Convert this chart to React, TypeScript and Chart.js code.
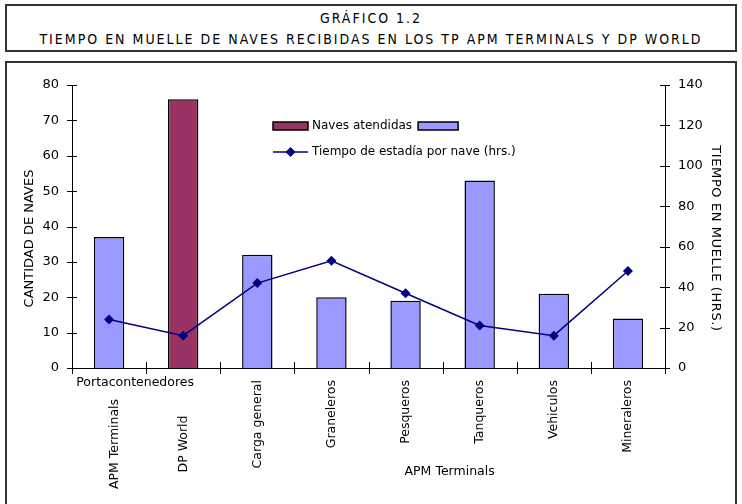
import React, { useEffect, useRef } from "react";
import { Chart, registerables } from "chart.js";

Chart.register(...registerables);

const categories = ["APM Terminals", "DP World", "Carga general", "Graneleros", "Pesqueros", "Tanqueros", "Vehiculos", "Mineraleros"];
const navesAtendidas = [37, 76, 32, 20, 19, 53, 21, 14];
const tiempoEstadia = [24, 16, 42, 53, 37, 21, 16, 48];
const barColors = ["#9999FF", "#993366", "#9999FF", "#9999FF", "#9999FF", "#9999FF", "#9999FF", "#9999FF"];
const groupLabels = ["Portacontenedores", "APM Terminals"];
const leftTitle = "CANTIDAD DE NAVES";
const rightTitle = "TIEMPO EN MUELLE (HRS.)";
const legendBar = "Naves atendidas";
const legendLine = "Tiempo de estadía por nave (hrs.)";
const titleLine1 = "GRÁFICO 1.2";
const titleLine2 = "TIEMPO EN MUELLE DE NAVES RECIBIDAS EN LOS TP APM TERMINALS Y DP WORLD";

const FONT = "'DejaVu Sans', Verdana, sans-serif";
const LINE_COLOR = "#000080";

const customPlugin = {
  id: "custom",
  afterDraw(chart: any) {
    const ctx = chart.ctx as CanvasRenderingContext2D;
    const { left, right, top, bottom } = chart.chartArea;
    const x = chart.scales.x;
    const y = chart.scales.y;
    const y1 = chart.scales.y1;
    ctx.save();
    ctx.strokeStyle = "#000";
    ctx.lineWidth = 1;
    // crossing tick marks
    ctx.beginPath();
    y.ticks.forEach((_t: any, i: number) => {
      const py = Math.round(y.getPixelForTick(i)) + 0.5;
      ctx.moveTo(left - 5, py);
      ctx.lineTo(left + 5, py);
    });
    y1.ticks.forEach((_t: any, i: number) => {
      const py = Math.round(y1.getPixelForTick(i)) + 0.5;
      ctx.moveTo(right - 5, py);
      ctx.lineTo(right + 5, py);
    });
    const n = categories.length;
    for (let i = 0; i <= n; i++) {
      const px = Math.round(left + ((right - left) * i) / n) + 0.5;
      ctx.moveTo(px, bottom - 6);
      ctx.lineTo(px, bottom + 6);
    }
    ctx.stroke();

    // category labels
    ctx.fillStyle = "#000";
    ctx.font = `12.5px ${FONT}`;
    ctx.textBaseline = "middle";
    categories.forEach((c, i) => {
      const px = x.getPixelForValue(i);
      ctx.save();
      if (i < 2) {
        ctx.translate(px + (i === 0 ? 6 : 1), bottom + 76);
        ctx.rotate(-Math.PI / 2);
        ctx.textAlign = "center";
      } else {
        ctx.translate(px, bottom + 12);
        ctx.rotate(-Math.PI / 2);
        ctx.textAlign = "right";
      }
      ctx.fillText(c, 0, 0);
      ctx.restore();
    });
    // group labels
    ctx.textAlign = "center";
    ctx.fillText(groupLabels[0], (x.getPixelForValue(0) + x.getPixelForValue(1)) / 2 - 11, bottom + 15);
    ctx.fillText(groupLabels[1], (x.getPixelForValue(2) + x.getPixelForValue(7)) / 2 + 7, bottom + 104);

    // axis titles
    ctx.font = `13px ${FONT}`;
    const midY = (top + bottom) / 2 + 12;
    ctx.save();
    ctx.translate(30, midY);
    ctx.rotate(-Math.PI / 2);
    ctx.fillText(leftTitle, 0, 0);
    ctx.restore();
    ctx.save();
    ctx.translate(715, midY);
    ctx.rotate(Math.PI / 2);
    (ctx as any).letterSpacing = "0.6px";
    ctx.fillText(rightTitle, 0, 0);
    ctx.restore();

    // legend
    ctx.font = `12px ${FONT}`;
    const lx = 273;
    const ly1 = 126;
    const ly2 = 152;
    ctx.lineWidth = 1.5;
    ctx.strokeStyle = "#000";
    ctx.fillStyle = barColors[1];
    ctx.fillRect(lx, ly1 - 4, 35, 8);
    ctx.strokeRect(lx, ly1 - 4, 35, 8);
    ctx.fillStyle = "#000";
    ctx.textAlign = "left";
    ctx.fillText(legendBar, 312, ly1);
    const w = ctx.measureText(legendBar).width;
    ctx.fillStyle = barColors[0];
    ctx.fillRect(312 + w + 6, ly1 - 4, 40, 8);
    ctx.strokeRect(312 + w + 6, ly1 - 4, 40, 8);
    ctx.strokeStyle = LINE_COLOR;
    ctx.lineWidth = 1.5;
    ctx.beginPath();
    ctx.moveTo(lx, ly2);
    ctx.lineTo(lx + 35, ly2);
    ctx.stroke();
    ctx.fillStyle = LINE_COLOR;
    ctx.beginPath();
    ctx.moveTo(lx + 17.5, ly2 - 5);
    ctx.lineTo(lx + 22.5, ly2);
    ctx.lineTo(lx + 17.5, ly2 + 5);
    ctx.lineTo(lx + 12.5, ly2);
    ctx.closePath();
    ctx.fill();
    ctx.fillStyle = "#000";
    ctx.fillText(legendLine, 312, ly2);
    ctx.restore();
  },
};

export default function App() {
  const ref = useRef<HTMLCanvasElement>(null);
  useEffect(() => {
    if (!ref.current) return;
    const chart = new Chart(ref.current, {
      type: "bar",
      data: {
        labels: categories,
        datasets: [
          {
            type: "line",
            label: legendLine,
            data: tiempoEstadia,
            yAxisID: "y1",
            borderColor: LINE_COLOR,
            backgroundColor: LINE_COLOR,
            borderWidth: 1.5,
            pointStyle: "rectRot",
            pointRadius: 5,
            pointBorderWidth: 0,
            tension: 0,
            order: 0,
          } as any,
          {
            type: "bar",
            label: legendBar,
            data: navesAtendidas,
            yAxisID: "y",
            backgroundColor: barColors,
            borderColor: "#000",
            borderWidth: 1.5,
            categoryPercentage: 1,
            barPercentage: 0.41,
            order: 1,
          },
        ],
      },
      options: {
        responsive: false,
        animation: false,
        events: [],
        layout: { padding: { left: 6, right: 27, top: 85, bottom: 0 } },
        plugins: { legend: { display: false }, tooltip: { enabled: false }, title: { display: false } },
        scales: {
          x: {
            grid: { display: false, drawTicks: false },
            border: { display: true, color: "#000", width: 1 },
            ticks: { display: false },
            afterFit: (s: any) => { s.height = 136; },
          },
          y: {
            position: "left",
            min: 0,
            max: 80,
            grid: { display: false, drawTicks: false },
            border: { display: true, color: "#000", width: 1 },
            ticks: { stepSize: 10, padding: 13, color: "#000", font: { family: FONT, size: 13 } },
            afterFit: (s: any) => { s.width = 66; },
          },
          y1: {
            position: "right",
            min: 0,
            max: 140,
            grid: { display: false, drawTicks: false },
            border: { display: true, color: "#000", width: 1 },
            ticks: { stepSize: 20, padding: 13, color: "#000", font: { family: FONT, size: 13 } },
            afterFit: (s: any) => { s.width = 50; },
          },
        },
      },
      plugins: [customPlugin],
    });
    return () => chart.destroy();
  }, []);

  const titleStyle: React.CSSProperties = {
    position: "absolute",
    left: 0,
    width: 742,
    textAlign: "center",
    fontFamily: "'DejaVu Sans Condensed', 'DejaVu Sans', sans-serif",
    fontStretch: "condensed",
    fontSize: 14,
    letterSpacing: "2px",
    lineHeight: "16px",
    color: "#000",
  };

  return (
    <div style={{ position: "fixed", left: 0, top: 0, width: 742, height: 504, overflow: "hidden", background: "#fff" }}>
      <div style={{ position: "absolute", left: 5, top: 4, width: 732, height: 48, boxSizing: "border-box", border: "2px solid #333" }} />
      <div style={{ ...titleStyle, top: 10 }}>{titleLine1}</div>
      <div style={{ ...titleStyle, top: 31 }}>{titleLine2}</div>
      <div style={{ position: "absolute", left: 5, top: 61, width: 732, height: 480, boxSizing: "border-box", border: "2px solid #333" }} />
      <canvas ref={ref} width={742} height={504} style={{ position: "absolute", left: 0, top: 0 }} />
    </div>
  );
}
